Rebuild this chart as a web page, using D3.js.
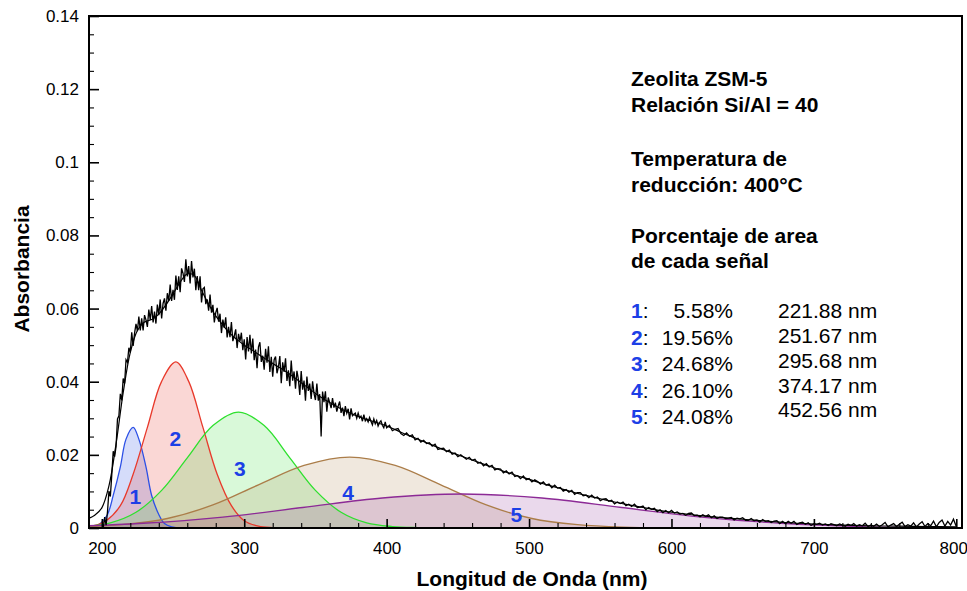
<!DOCTYPE html>
<html>
<head>
<meta charset="utf-8">
<script src="https://cdn.jsdelivr.net/npm/d3@7"></script>
<style>
  body { margin: 0; background: #fff; }
  svg { display: block; font-family: "Liberation Sans", Arial, Helvetica, sans-serif; }
</style>
</head>
<body>
<svg id="chart"></svg>
<script>
// axis ticks
var xTickValues = [200, 300, 400, 500, 600, 700, 800];
var yTickValues = [0, 0.02, 0.04, 0.06, 0.08, 0.1, 0.12, 0.14];
var yTickLabels = ["0", "0.02", "0.04", "0.06", "0.08", "0.1", "0.12", "0.14"];

// measured spectrum, 201-400 nm every 1 nm
var measuredAbsA = [
  0.0000, 0.0030, 0.0008, 0.0045, 0.0101, 0.0086, 0.0146, 0.0210, 0.0195, 0.0223,
  0.0298, 0.0307, 0.0367, 0.0349, 0.0409, 0.0395, 0.0460, 0.0453, 0.0493, 0.0480,
  0.0535, 0.0498, 0.0533, 0.0558, 0.0538, 0.0578, 0.0540, 0.0573, 0.0540, 0.0582,
  0.0569, 0.0550, 0.0597, 0.0569, 0.0607, 0.0562, 0.0592, 0.0559, 0.0611, 0.0582,
  0.0625, 0.0573, 0.0614, 0.0628, 0.0594, 0.0642, 0.0621, 0.0666, 0.0621, 0.0651,
  0.0624, 0.0690, 0.0651, 0.0688, 0.0645, 0.0710, 0.0697, 0.0673, 0.0735, 0.0688,
  0.0716, 0.0669, 0.0730, 0.0685, 0.0709, 0.0650, 0.0689, 0.0650, 0.0688, 0.0617,
  0.0654, 0.0658, 0.0612, 0.0625, 0.0594, 0.0638, 0.0589, 0.0610, 0.0562, 0.0589,
  0.0602, 0.0564, 0.0586, 0.0533, 0.0570, 0.0547, 0.0576, 0.0521, 0.0550, 0.0522,
  0.0563, 0.0511, 0.0525, 0.0543, 0.0492, 0.0531, 0.0510, 0.0534, 0.0486, 0.0516,
  0.0461, 0.0522, 0.0483, 0.0528, 0.0477, 0.0518, 0.0459, 0.0488, 0.0437, 0.0495,
  0.0508, 0.0454, 0.0471, 0.0433, 0.0490, 0.0452, 0.0497, 0.0427, 0.0468, 0.0414,
  0.0460, 0.0469, 0.0423, 0.0440, 0.0470, 0.0396, 0.0453, 0.0427, 0.0464, 0.0402,
  0.0431, 0.0388, 0.0458, 0.0403, 0.0428, 0.0381, 0.0430, 0.0407, 0.0364, 0.0429,
  0.0378, 0.0403, 0.0348, 0.0414, 0.0375, 0.0395, 0.0353, 0.0401, 0.0368, 0.0350,
  0.0395, 0.0348, 0.0366, 0.0250, 0.0373, 0.0344, 0.0374, 0.0318, 0.0357, 0.0343,
  0.0328, 0.0355, 0.0329, 0.0343, 0.0318, 0.0334, 0.0346, 0.0315, 0.0329, 0.0306,
  0.0333, 0.0314, 0.0326, 0.0297, 0.0327, 0.0307, 0.0311, 0.0314, 0.0300, 0.0314,
  0.0301, 0.0306, 0.0292, 0.0310, 0.0293, 0.0299, 0.0290, 0.0302, 0.0292, 0.0282,
  0.0298, 0.0285, 0.0294, 0.0279, 0.0288, 0.0293, 0.0281, 0.0274, 0.0290, 0.0274
];

// measured spectrum, 402-800 nm every 2 nm
var measuredAbsB = [
  0.0281, 0.0266, 0.0270, 0.0272, 0.0258, 0.0253, 0.0260, 0.0251, 0.0255, 0.0241,
  0.0245, 0.0235, 0.0240, 0.0231, 0.0233, 0.0224, 0.0229, 0.0215, 0.0217, 0.0218,
  0.0209, 0.0213, 0.0202, 0.0205, 0.0195, 0.0200, 0.0194, 0.0188, 0.0193, 0.0185,
  0.0188, 0.0177, 0.0180, 0.0170, 0.0176, 0.0167, 0.0171, 0.0159, 0.0162, 0.0161,
  0.0151, 0.0156, 0.0148, 0.0153, 0.0141, 0.0143, 0.0135, 0.0142, 0.0132, 0.0135,
  0.0126, 0.0132, 0.0127, 0.0120, 0.0126, 0.0117, 0.0120, 0.0110, 0.0117, 0.0109,
  0.0111, 0.0101, 0.0105, 0.0098, 0.0103, 0.0092, 0.0097, 0.0097, 0.0088, 0.0090,
  0.0083, 0.0090, 0.0082, 0.0085, 0.0075, 0.0079, 0.0080, 0.0073, 0.0076, 0.0066,
  0.0071, 0.0067, 0.0071, 0.0061, 0.0065, 0.0059, 0.0065, 0.0056, 0.0057, 0.0060,
  0.0050, 0.0056, 0.0051, 0.0054, 0.0045, 0.0050, 0.0042, 0.0048, 0.0042, 0.0048,
  0.0041, 0.0044, 0.0038, 0.0040, 0.0035, 0.0040, 0.0041, 0.0034, 0.0035, 0.0031,
  0.0036, 0.0032, 0.0036, 0.0028, 0.0033, 0.0026, 0.0030, 0.0030, 0.0026, 0.0027,
  0.0029, 0.0022, 0.0027, 0.0025, 0.0028, 0.0021, 0.0021, 0.0026, 0.0020, 0.0022,
  0.0016, 0.0023, 0.0018, 0.0020, 0.0015, 0.0019, 0.0020, 0.0012, 0.0018, 0.0012,
  0.0018, 0.0013, 0.0018, 0.0010, 0.0014, 0.0016, 0.0010, 0.0014, 0.0007, 0.0012,
  0.0010, 0.0013, 0.0008, 0.0011, 0.0007, 0.0012, 0.0009, 0.0006, 0.0011, 0.0008,
  0.0005, 0.0010, 0.0007, 0.0012, 0.0005, 0.0009, 0.0006, 0.0013, 0.0004, 0.0008,
  0.0005, 0.0011, 0.0004, 0.0009, 0.0015, 0.0003, 0.0008, 0.0012, 0.0004, 0.0010,
  0.0016, 0.0004, 0.0009, 0.0005, 0.0014, 0.0003, 0.0011, 0.0017, 0.0004, 0.0012,
  0.0006, 0.0019, 0.0003, 0.0015, 0.0022, 0.0005, 0.0018, 0.0008, 0.0024, 0.0004
];

// fitted envelope (sum of peaks)
var fitNm = [190, 195, 200, 205, 210, 215, 220, 225, 230, 235, 240, 245, 250, 255, 260, 265, 270, 275, 280, 285,
  290, 295, 300, 305, 310, 315, 320, 325, 330, 335, 340, 345, 350, 355, 360, 365, 370, 375, 380,
  390, 400, 410, 420, 430, 440, 450, 460, 470, 480, 490, 500, 510, 520, 530, 540, 550, 560, 570, 580, 590, 600,
  620, 640, 660, 680, 700, 720, 740, 760, 780, 800];
var fitAbs = [0.0025, 0.0035, 0.0055, 0.0115, 0.0230, 0.0370, 0.0480, 0.0540, 0.0563, 0.0570,
  0.0585, 0.0610, 0.0640, 0.0672, 0.0695, 0.0690, 0.0650, 0.0612, 0.0580, 0.0555,
  0.0532, 0.0515, 0.0500, 0.0488, 0.0475, 0.0462, 0.0450, 0.0438, 0.0426, 0.0412,
  0.0397, 0.0383, 0.0368, 0.0355, 0.0343, 0.0332, 0.0322, 0.0313, 0.0305,
  0.0292, 0.0279, 0.0262, 0.0246, 0.0230, 0.0214, 0.0200, 0.0186, 0.0172, 0.0158, 0.0145, 0.0133,
  0.0121, 0.0110, 0.0099, 0.0089, 0.0080, 0.0071, 0.0063, 0.0056, 0.0049, 0.0043,
  0.0034, 0.0027, 0.0021, 0.0015, 0.0011, 0.0008, 0.0006, 0.0005, 0.0004, 0.0003];

// deconvoluted peaks
var peak1Nm = [186, 190, 195, 199, 204, 208, 213, 217, 222, 226, 231, 235, 240, 244, 249, 253, 258, 262];
var peak1Abs = [0.0000, 0.0001, 0.0003, 0.0012, 0.0037, 0.0089, 0.0167, 0.0243, 0.0275, 0.0243, 0.0167, 0.0089, 0.0037, 0.0012, 0.0003, 0.0001, 0.0000, 0.0000];
var peak2Nm = [174, 183, 193, 203, 213, 222, 232, 242, 252, 261, 271, 281, 291, 300, 310, 320, 330];
var peak2Abs = [0.0000, 0.0001, 0.0005, 0.0020, 0.0061, 0.0147, 0.0275, 0.0401, 0.0454, 0.0401, 0.0275, 0.0147, 0.0061, 0.0020, 0.0005, 0.0001, 0.0000];
var peak3Nm = [170, 188, 206, 224, 242, 260, 278, 296, 314, 332, 350, 368, 386, 404, 422, 440];
var peak3Abs = [0.0001, 0.0004, 0.0014, 0.0043, 0.0103, 0.0192, 0.0280, 0.0317, 0.0280, 0.0192, 0.0103, 0.0043, 0.0014, 0.0004, 0.0001, 0.0000];
var peak4Nm = [150, 182, 214, 246, 278, 310, 342, 374, 406, 438, 470, 502, 534, 566, 598, 630];
var peak4Abs = [0.0000, 0.0002, 0.0009, 0.0026, 0.0063, 0.0118, 0.0171, 0.0194, 0.0171, 0.0118, 0.0063, 0.0026, 0.0009, 0.0002, 0.0000, 0.0000];
var peak5Nm = [117, 173, 229, 285, 341, 397, 453, 509, 565, 621, 677, 733, 789, 845];
var peak5Abs = [0.0001, 0.0004, 0.0013, 0.0030, 0.0056, 0.0082, 0.0093, 0.0082, 0.0056, 0.0030, 0.0013, 0.0004, 0.0001, 0.0000];

var peakNames = ["1", "2", "3", "4", "5"];
var peakAreas = ["5.58%", "19.56%", "24.68%", "26.10%", "24.08%"];
var peakCenters = ["221.88 nm", "251.67 nm", "295.68 nm", "374.17 nm", "452.56 nm"];

var infoLines = ["Zeolita ZSM-5", "Relación Si/Al = 40", "Temperatura de", "reducción: 400°C", "Porcentaje de area", "de cada señal"];

// ---- layout ----
var margin = { top: 16, right: 5, bottom: 63, left: 89 },
    W = 967, H = 591,
    w = W - margin.left - margin.right,
    h = H - margin.top - margin.bottom;

var svg = d3.select("#chart").attr("width", W).attr("height", H);
var g = svg.append("g").attr("transform", "translate(" + margin.left + "," + margin.top + ")");

var x = d3.scaleLinear().domain([191, 804]).range([0, w]);
var y = d3.scaleLinear().domain([0, 0.14]).range([h, 0]);

g.append("clipPath").attr("id", "clip")
  .append("rect").attr("width", w).attr("height", h);
var plot = g.append("g").attr("clip-path", "url(#clip)");

var peaks = [
  d3.zip(peak1Nm, peak1Abs), d3.zip(peak2Nm, peak2Abs), d3.zip(peak3Nm, peak3Abs),
  d3.zip(peak4Nm, peak4Abs), d3.zip(peak5Nm, peak5Abs)
];
var peakColors = ["#2b4fe6", "#e8392b", "#2ee02e", "#ab7d49", "#8c2a96"];
var peakFillOp = [0.2, 0.2, 0.18, 0.18, 0.18];

var area = d3.area()
  .x(function(d) { return x(d[0]); })
  .y0(h)
  .y1(function(d) { return y(Math.max(0, d[1])); })
  .curve(d3.curveCatmullRom);
var line = d3.line()
  .x(function(d) { return x(d[0]); })
  .y(function(d) { return y(d[1]); })
  .curve(d3.curveCatmullRom);

plot.selectAll("path.peakfill")
  .data(peaks)
  .enter().append("path")
  .attr("class", "peakfill")
  .attr("d", area)
  .attr("fill", function(d, i) { return peakColors[i]; })
  .attr("fill-opacity", function(d, i) { return peakFillOp[i]; });

plot.selectAll("path.peakline")
  .data(peaks)
  .enter().append("path")
  .attr("class", "peakline")
  .attr("d", line)
  .attr("fill", "none")
  .attr("stroke", function(d, i) { return peakColors[i]; })
  .attr("stroke-width", 1.3);

// fit
plot.append("path")
  .datum(d3.zip(fitNm, fitAbs))
  .attr("d", line)
  .attr("fill", "none")
  .attr("stroke", "#000")
  .attr("stroke-width", 1.2);

// measured
var measuredNm = d3.range(201, 401, 1).concat(d3.range(402, 801, 2));
var measured = d3.zip(measuredNm, measuredAbsA.concat(measuredAbsB));
plot.append("path")
  .datum(measured)
  .attr("d", d3.line().x(function(d) { return x(d[0]); }).y(function(d) { return y(d[1]); }))
  .attr("fill", "none")
  .attr("stroke", "#000")
  .attr("stroke-width", 1.3)
  .attr("stroke-linejoin", "miter");

// axes: ticks point inward
var xAxis = g.append("g")
  .attr("transform", "translate(0," + h + ")")
  .call(d3.axisBottom(x).tickValues(xTickValues).tickSize(-9).tickSizeOuter(0)
    .tickPadding(13.5).tickFormat(d3.format("d")));
var xMinor = g.append("g")
  .attr("transform", "translate(0," + h + ")")
  .call(d3.axisBottom(x).tickValues(d3.range(220, 800, 20).filter(function(v) { return v % 100 !== 0; }))
    .tickSize(-5).tickSizeOuter(0).tickFormat(""));

var yAxis = g.append("g")
  .call(d3.axisLeft(y).tickValues(yTickValues).tickSize(-10).tickSizeOuter(0)
    .tickPadding(10).tickFormat(function(d, i) { return yTickLabels[i]; }));
var yMinor = g.append("g")
  .call(d3.axisLeft(y).tickValues(d3.range(1, 28).filter(function(k) { return k % 4 !== 0; })
    .map(function(k) { return k * 0.005; })).tickSize(-5).tickSizeOuter(0).tickFormat(""));

[xAxis, xMinor, yAxis, yMinor].forEach(function(a) {
  a.select(".domain").remove();
  a.attr("font-family", null).attr("font-size", 17);
  a.selectAll("text").attr("fill", "#000");
});
xAxis.selectAll("line").attr("stroke-width", 1.6);
yAxis.selectAll("line").attr("stroke-width", 1.6);
xMinor.selectAll("line").attr("stroke-width", 1.1);
yMinor.selectAll("line").attr("stroke-width", 1.1);
// keep the last x label inside the page
xAxis.selectAll(".tick text").filter(function(d) { return d === 800; }).attr("dx", "-3");

// frame
g.append("rect")
  .attr("width", w)
  .attr("height", h)
  .attr("fill", "none")
  .attr("stroke", "#000")
  .attr("stroke-width", 2);

// peak numbers inside the plot
var labelBlue = "#1c3fe6";
var peakLabelAt = [[223.5, 0.0085], [251.6, 0.0246], [297, 0.0164], [373, 0.0098], [491, 0.0038]];
g.selectAll("text.peaknum")
  .data(peakNames)
  .enter().append("text")
  .attr("class", "peaknum")
  .attr("x", function(d, i) { return x(peakLabelAt[i][0]); })
  .attr("y", function(d, i) { return y(peakLabelAt[i][1]); })
  .attr("dy", "0.36em")
  .attr("text-anchor", "middle")
  .attr("font-size", 21)
  .attr("font-weight", "bold")
  .attr("fill", labelBlue)
  .text(function(d) { return d; });

// axis titles
svg.append("text")
  .attr("transform", "translate(29,269) rotate(-90)")
  .attr("text-anchor", "middle")
  .attr("font-size", 21)
  .attr("font-weight", "bold")
  .text("Absorbancia");

svg.append("text")
  .attr("x", 532)
  .attr("y", 586)
  .attr("text-anchor", "middle")
  .attr("font-size", 21)
  .attr("font-weight", "bold")
  .text("Longitud de Onda (nm)");

// info block
var infoY = [86, 112, 166, 192, 243, 268];
svg.selectAll("text.info")
  .data(infoLines)
  .enter().append("text")
  .attr("class", "info")
  .attr("x", 631)
  .attr("y", function(d, i) { return infoY[i]; })
  .attr("font-size", 21)
  .attr("font-weight", "bold")
  .text(function(d) { return d; });

// percentage list
var rowY = [318, 344.5, 371, 397.5, 424];
var rowY2 = [318, 343, 367.5, 392.5, 417];
var rows = svg.selectAll("g.row")
  .data(peakNames)
  .enter().append("g")
  .attr("class", "row");

var lead = rows.append("text")
  .attr("x", 631)
  .attr("y", function(d, i) { return rowY[i]; })
  .attr("font-size", 21);
lead.append("tspan")
  .attr("font-weight", "bold")
  .attr("fill", labelBlue)
  .text(function(d) { return d; });
lead.append("tspan").text(":");

rows.append("text")
  .attr("x", 733)
  .attr("y", function(d, i) { return rowY[i]; })
  .attr("text-anchor", "end")
  .attr("font-size", 21)
  .text(function(d, i) { return peakAreas[i]; });

rows.append("text")
  .attr("x", 778)
  .attr("y", function(d, i) { return rowY2[i]; })
  .attr("font-size", 21)
  .text(function(d, i) { return peakCenters[i]; });
</script>
</body>
</html>
